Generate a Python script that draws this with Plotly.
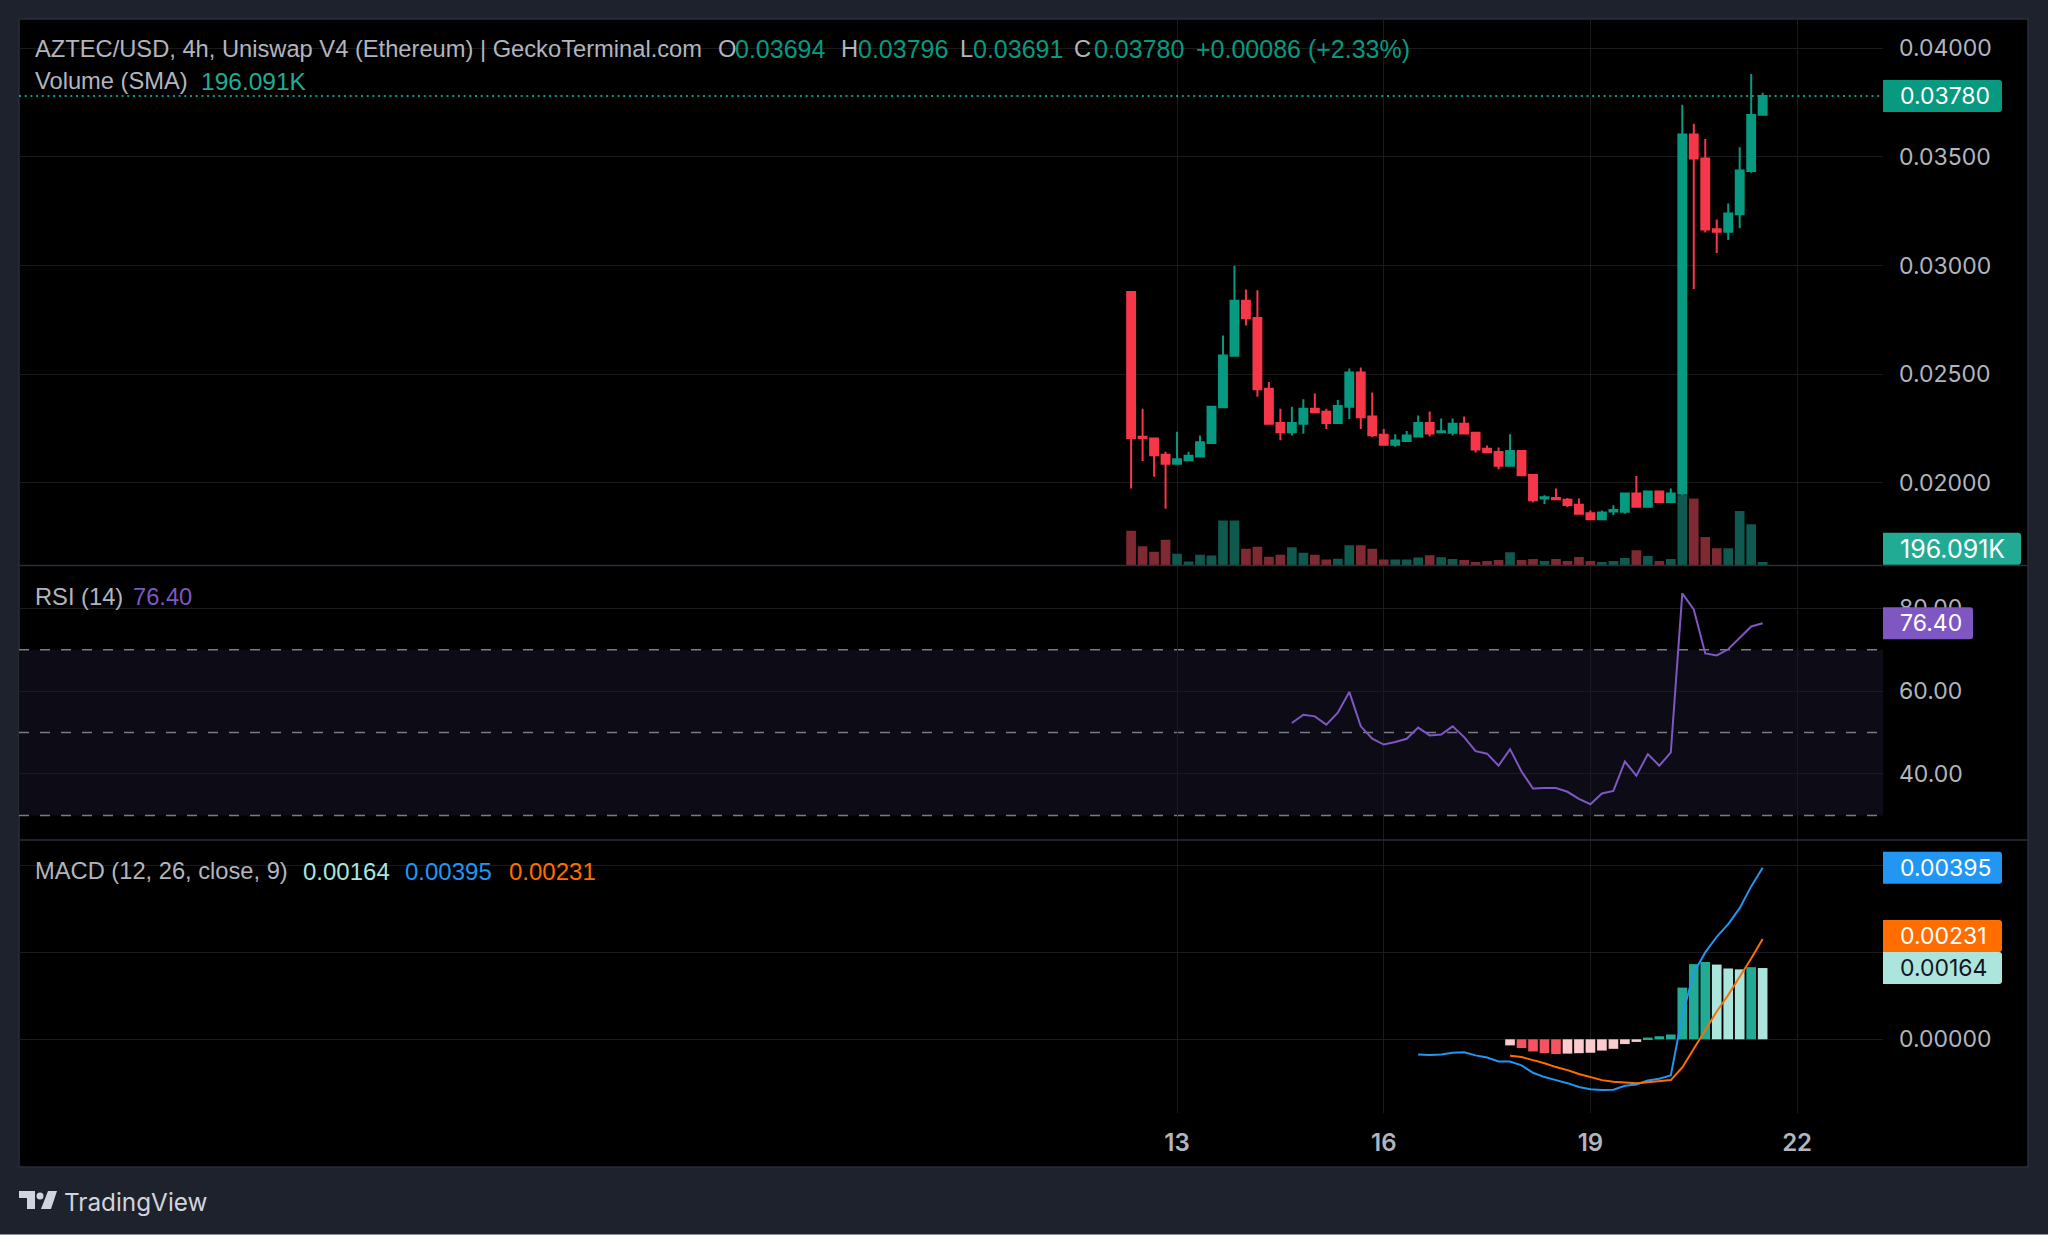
import pandas as pd
import plotly.graph_objects as go

W, H = 2048, 1235

# 4h candles, first one 12th 08:00
first_candle = '2025-11-12 08:00'
open_vals = [0.02878,0.02212,0.02204,0.02129,0.02088,0.02104,0.02121,0.02183,0.02347,0.02585,0.02838,0.02758,0.02433,0.02275,
             0.02232,0.02272,0.02341,0.02327,0.02275,0.02350,0.02508,0.02305,0.02221,0.02175,0.02192,0.02213,0.02275,0.02232,
             0.02230,0.02272,0.02230,0.02156,0.02142,0.02078,0.02146,0.02036,0.01927,0.01930,0.01922,0.01899,0.01860,0.01832,
             0.01868,0.01866,0.01950,0.01889,0.01960,0.01911,0.01950,0.03603,0.03493,0.03167,0.03155,0.03236,0.03435,0.03694]
high_vals = [0.02878,0.02341,0.02206,0.02143,0.02235,0.02143,0.02218,0.02353,0.02678,0.02998,0.02890,0.02886,0.02464,0.02341,
             0.02350,0.02384,0.02411,0.02341,0.02381,0.02526,0.02531,0.02416,0.02247,0.02223,0.02238,0.02310,0.02328,0.02296,
             0.02296,0.02305,0.02230,0.02171,0.02162,0.02223,0.02146,0.02036,0.01942,0.01974,0.01930,0.01927,0.01872,0.01872,
             0.01896,0.01950,0.02031,0.01964,0.01964,0.01974,0.03740,0.03653,0.03583,0.03212,0.03286,0.03544,0.03882,0.03796]
low_vals = [0.01973,0.02100,0.02028,0.01880,0.02083,0.02103,0.02120,0.02180,0.02347,0.02585,0.02724,0.02396,0.02272,0.02196,
            0.02218,0.02226,0.02324,0.02247,0.02276,0.02293,0.02247,0.02209,0.02175,0.02166,0.02192,0.02210,0.02213,0.02232,
            0.02218,0.02227,0.02139,0.02140,0.02062,0.02078,0.02034,0.01910,0.01902,0.01924,0.01888,0.01857,0.01832,0.01832,
            0.01852,0.01857,0.01885,0.01885,0.01911,0.01911,0.01925,0.02892,0.03152,0.03058,0.03118,0.03172,0.03427,0.03691]
close_vals = [0.02206,0.02206,0.02126,0.02088,0.02108,0.02124,0.02186,0.02350,0.02586,0.02838,0.02757,0.02431,0.02272,0.02232,
              0.02275,0.02341,0.02324,0.02275,0.02353,0.02508,0.02302,0.02219,0.02175,0.02195,0.02218,0.02275,0.02227,0.02237,
              0.02272,0.02227,0.02153,0.02140,0.02078,0.02146,0.02034,0.01919,0.01933,0.01924,0.01897,0.01857,0.01832,0.01863,
              0.01874,0.01950,0.01889,0.01960,0.01911,0.01950,0.03603,0.03493,0.03166,0.03155,0.03239,0.03437,0.03693,0.03780]
# volume in thousands
volume_vals = [2002,1114,790,1483,675,231,617,577,2597,2597,964,1079,502,617,1056,733,617,346,387,1171,1171,964,346,346,346,462,
               589,473,369,312,196,254,312,762,312,369,254,369,254,490,254,196,254,427,877,548,254,369,4056,3860,1639,992,992,
               3139,2377,196]

# RSI starts at candle 14, MACD at 25, signal and histogram at 33
rsi_vals = [52.3,54.3,53.9,51.9,54.8,59.8,51.5,48.5,47.1,47.7,48.5,51.2,49.3,49.5,51.5,48.9,45.5,44.9,42.0,46.0,40.6,36.5,36.6,
            36.6,35.7,34.0,32.7,35.3,35.9,43.0,39.6,44.8,42.0,45.2,83.6,79.7,69.1,68.6,70.1,72.8,75.6,76.4]
macd_vals = [-0.00035,-0.00036,-0.00035,-0.00031,-0.00030,-0.00037,-0.00042,-0.00051,-0.00051,-0.00060,-0.00077,-0.00087,
             -0.00094,-0.00101,-0.00110,-0.00115,-0.00117,-0.00116,-0.00107,-0.00104,-0.00095,-0.00091,-0.00083,0.00054,
             0.00153,0.00200,0.00236,0.00265,0.00302,0.00352,0.00395]
signal_vals = [-0.00038,-0.00041,-0.00048,-0.00055,-0.00064,-0.00071,-0.00080,-0.00087,-0.00094,-0.00098,-0.00100,-0.00101,
               -0.00099,-0.00097,-0.00094,-0.00065,-0.00021,0.00021,0.00064,0.00102,0.00143,0.00186,0.00231]
hist_vals = [-0.00014,-0.00020,-0.00028,-0.00032,-0.00034,-0.00033,-0.00032,-0.00031,-0.00026,-0.00022,-0.00011,-0.00006,
             0.00004,0.00007,0.00011,0.00119,0.00173,0.00178,0.00172,0.00163,0.00161,0.00166,0.00164]

day_ticks = ['2025-11-13', '2025-11-16', '2025-11-19', '2025-11-22']
day_labels = ['13', '16', '19', '22']
price_ticks = [0.02, 0.025, 0.03, 0.035, 0.04]
rsi_ticks = [40, 60, 80]
rsi_levels = [30, 50, 70]
macd_ticks = [0, 0.002, 0.004]
# the two upper macd labels sit behind the value tags, the chart shows only the gridlines
macd_labels = ['0.00000', '', '']

GREEN = '#089981'
RED = '#f6374a'
GRID = '#1b1b1d'
TEXT = '#b2b5be'
BORDER = '#2a2e39'
LABEL_FONT = 'Liberation Sans'
AXIS_FONT = 'Inter'


def px(x):
    return x / W


def py(y):
    return 1 - y / H


dates = pd.date_range(first_candle, periods=len(open_vals), freq='4h')

vol_colors = ['#10594e' if c >= o else '#7f2a33' for o, c in zip(open_vals, close_vals)]

hist_colors = []
for i, v in enumerate(hist_vals):
    rising = i == 0 or v > hist_vals[i - 1]
    if v >= 0:
        hist_colors.append('#22ab94' if rising else '#ace5dc')
    else:
        hist_colors.append('#fccbcd' if rising else '#f7525f')

fig = go.Figure()

fig.add_trace(go.Candlestick(x=dates, open=open_vals, high=high_vals, low=low_vals, close=close_vals, yaxis='y',
                             increasing=dict(line=dict(color=GREEN, width=2), fillcolor=GREEN),
                             decreasing=dict(line=dict(color=RED, width=2), fillcolor=RED)))
fig.add_trace(go.Bar(x=dates, y=volume_vals, yaxis='y4', marker=dict(color=vol_colors, line_width=0)))
fig.add_trace(go.Scatter(x=dates[14:], y=rsi_vals, yaxis='y2', mode='lines', line=dict(color='#7e57c2', width=2)))
fig.add_trace(go.Bar(x=dates[33:], y=hist_vals, yaxis='y3', marker=dict(color=hist_colors, line_width=0)))
fig.add_trace(go.Scatter(x=dates[25:], y=macd_vals, yaxis='y3', mode='lines', line=dict(color='#2196f3', width=2)))
fig.add_trace(go.Scatter(x=dates[33:], y=signal_vals, yaxis='y3', mode='lines', line=dict(color='#ff6d00', width=2)))

shapes = []
annotations = []

# black panel and separators
shapes.append(dict(type='rect', xref='paper', yref='paper', x0=px(19), x1=px(2028), y0=py(1167), y1=py(19),
                   fillcolor='#000000', line=dict(color=BORDER, width=1.5), layer='below'))
for sep in [565.5, 840]:
    shapes.append(dict(type='line', xref='paper', yref='paper', x0=px(19), x1=px(2028), y0=py(sep), y1=py(sep),
                       line=dict(color=BORDER, width=1.5), layer='above'))
shapes.append(dict(type='line', xref='paper', yref='paper', x0=0, x1=1, y0=py(1234.5), y1=py(1234.5),
                   line=dict(color='#8a8d95', width=1), layer='above'))

# RSI band and levels
shapes.append(dict(type='rect', xref='paper', yref='y2', x0=px(19), x1=px(1883), y0=rsi_levels[0], y1=rsi_levels[-1],
                   fillcolor='#0d0b15', line_width=0, layer='below'))
for lvl in rsi_levels:
    shapes.append(dict(type='line', xref='paper', yref='y2', x0=px(19), x1=px(1883), y0=lvl, y1=lvl,
                       line=dict(color='#787b86', width=1.5, dash='10px,11px'), layer='below'))

# last price dotted line
shapes.append(dict(type='line', xref='paper', yref='y', x0=px(19), x1=px(1883), y0=close_vals[-1], y1=close_vals[-1],
                   line=dict(color=GREEN, width=2, dash='2px,3.7px'), layer='above'))


def tag(value, yref, width, color, text, text_color='#ffffff', shift=0, size=23):
    r = 3
    h = 16
    path = (f'M 0 {shift - h} L {width - r} {shift - h} Q {width} {shift - h} {width} {shift - h + r} '
            f'L {width} {shift + h - r} Q {width} {shift + h} {width - r} {shift + h} L 0 {shift + h} Z')
    shapes.append(dict(type='path', path=path, xref='paper', yref=yref, xsizemode='pixel', ysizemode='pixel',
                       xanchor=px(1883), yanchor=value, fillcolor=color, line_width=0, layer='above'))
    annotations.append(dict(xref='paper', yref=yref, x=px(1898), y=value, yshift=shift, text=text, showarrow=False,
                            xanchor='left', yanchor='middle', font=dict(family=AXIS_FONT, size=size, color=text_color)))


tag(close_vals[-1], 'y', 119, GREEN, '0.03780')
tag(py(548.7), 'paper', 138, '#22ab94', '196.091K', size=25)
tag(rsi_vals[-1], 'y2', 90, '#7e57c2', '76.40')
tag(macd_vals[-1], 'y3', 119, '#2196f3', '0.00395')
tag(signal_vals[-1], 'y3', 119, '#ff6d00', '0.00231', shift=3)
tag(hist_vals[-1], 'y3', 119, '#ace5dc', '0.00164', text_color='#131722')


def label(x, y, text, color=TEXT, size=23.7, family=LABEL_FONT):
    annotations.append(dict(xref='paper', yref='paper', x=px(x - 2), y=py(y), text=text, showarrow=False,
                            xanchor='left', yanchor='middle', font=dict(family=family, size=size, color=color)))


label(35, 49, 'AZTEC/USD, 4h, Uniswap V4 (Ethereum) | GeckoTerminal.com')
label(718, 49, 'O')
label(735, 49, '0.03694', GREEN, 25)
label(841, 49, 'H')
label(858, 49, '0.03796', GREEN, 25)
label(960, 49, 'L')
label(973, 49, '0.03691', GREEN, 25)
label(1074, 49, 'C')
label(1094, 49, '0.03780', GREEN, 25)
label(1196, 49, '+0.00086 (+2.33%)', GREEN, 25)
label(35, 81, 'Volume (SMA)')
label(201, 81, '196.091K', '#22ab94', 24.5)
label(35, 597, 'RSI (14)')
label(133, 597, '76.40', '#7e57c2')
label(35, 871, 'MACD (12, 26, close, 9)')
label(303, 871, '0.00164', '#ace5dc', 24)
label(405, 871, '0.00395', '#2196f3', 24)
label(509, 871, '0.00231', '#ff6d00', 24)

# TradingView logo
logo = [
    [(19, 1191), (35, 1191), (35, 1209), (27, 1209), (27, 1198), (19, 1198)],
    [(48, 1191), (57, 1191), (51, 1209), (41, 1209)],
]
for poly in logo:
    path = 'M ' + ' L '.join(f'{px(x)} {py(y)}' for x, y in poly) + ' Z'
    shapes.append(dict(type='path', path=path, xref='paper', yref='paper', fillcolor='#d1d4dc', line_width=0, layer='above'))
shapes.append(dict(type='circle', xref='paper', yref='paper', x0=px(36.5), x1=px(43.5), y0=py(1199.5), y1=py(1192.5),
                   fillcolor='#d1d4dc', line_width=0, layer='above'))
label(64, 1202, 'TradingView', '#d1d4dc', 24.3, 'Inter')

y_common = dict(side='right', anchor='x', gridcolor=GRID, gridwidth=1.3, zeroline=False, showline=False, ticks='',
                ticklabelstandoff=15, tickfont=dict(family=AXIS_FONT, size=23, color=TEXT))

fig.update_layout(
    width=W, height=H, autosize=False,
    margin=dict(l=0, r=0, t=0, b=0),
    paper_bgcolor='#1e222d', plot_bgcolor='#000000',
    showlegend=False, barmode='overlay', bargap=0.16, boxgap=0.02,
    shapes=shapes, annotations=annotations,
    xaxis=dict(domain=[px(19), px(1883)], anchor='y3', range=['2025-10-27 04:36', '2025-11-23 05:55'],
               tickvals=day_ticks, ticktext=day_labels, showgrid=True, gridcolor=GRID, gridwidth=1.3, ticks='',
               showline=False, zeroline=False, rangeslider=dict(visible=False), ticklabelstandoff=13,
               tickfont=dict(family=AXIS_FONT, size=24, color=TEXT, weight=600)),
    yaxis=dict(domain=[py(565.5), py(19)], range=[0.01619, 0.04135], tickvals=price_ticks, tickformat='.5f', **y_common),
    yaxis2=dict(domain=[py(840), py(566)], range=[24.06, 90.2], tickvals=rsi_ticks, tickformat='.2f', **y_common),
    yaxis3=dict(domain=[py(1113), py(840)], range=[-0.001697, 0.004588], tickvals=macd_ticks, ticktext=macd_labels, **y_common),
    yaxis4=dict(domain=[py(565.5), py(19)], range=[0, 31533], overlaying='y', side='left', anchor='x', visible=False),
)

fig.write_html('out.html', config={'displayModeBar': False},
               post_script="document.body.style.margin='0';document.body.style.overflow='hidden';")
